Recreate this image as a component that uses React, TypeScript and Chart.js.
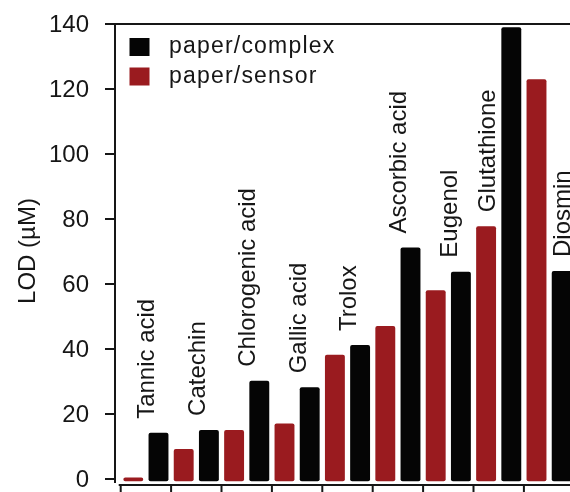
import React, { useEffect, useRef } from "react";
import { Chart, registerables } from "chart.js";

Chart.register(...registerables);

const categories = [
  "Tannic acid",
  "Catechin",
  "Chlorogenic acid",
  "Gallic acid",
  "Trolox",
  "Ascorbic acid",
  "Eugenol",
  "Glutathione",
  "Diosmin",
];
const sensorValues = [0.5, 9.2, 15.1, 17.1, 38.2, 47.1, 58.1, 77.8, 123];
const complexValues = [14.2, 15.1, 30.2, 28.2, 41.2, 71.2, 63.8, 139, 64];
// which bar the rotated label sits over: "center", "sensor" or "complex"
const labelAnchors = ["center", "center", "center", "center", "center", "center", "center", "sensor", "complex"];
const yTicks = [0, 20, 40, 60, 80, 100, 120, 140];
const seriesNames = { complex: "paper/complex", sensor: "paper/sensor" };

const RED = "#9a1b1f";
const BLACK = "#050505";
const INK = "#161616";
const FONT = "'Liberation Sans', Arial, Helvetica, sans-serif";

export default function App() {
  const ref = useRef<HTMLCanvasElement | null>(null);

  useEffect(() => {
    if (!ref.current) return;
    const decor = {
      id: "decor",
      afterDraw(chart: any) {
        const ctx = chart.ctx as CanvasRenderingContext2D;
        const xs = chart.scales.x;
        const ys = chart.scales.y;
        const area = chart.chartArea;
        const axisX = 115;
        ctx.save();
        ctx.strokeStyle = INK;
        ctx.lineWidth = 2;
        ctx.lineCap = "butt";
        // left axis
        ctx.beginPath();
        ctx.moveTo(axisX, 23);
        ctx.lineTo(axisX, 483);
        ctx.stroke();
        // top frame line
        ctx.beginPath();
        ctx.moveTo(axisX - 1, 24);
        ctx.lineTo(chart.width, 24);
        ctx.stroke();
        // y ticks and labels
        ctx.fillStyle = INK;
        ctx.font = `24px ${FONT}`;
        ctx.textAlign = "right";
        ctx.textBaseline = "middle";
        yTicks.forEach((v) => {
          const y = Math.round(ys.getPixelForValue(v));
          ctx.beginPath();
          ctx.moveTo(105, y);
          ctx.lineTo(axisX, y);
          ctx.stroke();
          ctx.fillText(String(v), 89, y + 1);
        });
        // bottom axis
        const slot = (area.right - area.left) / categories.length;
        ctx.beginPath();
        ctx.moveTo(area.left - 2, 485);
        ctx.lineTo(chart.width, 485);
        ctx.stroke();
        for (let i = 0; i <= categories.length; i++) {
          const x = xs.getPixelForValue(i) - slot / 2;
          ctx.beginPath();
          ctx.moveTo(x, 485);
          ctx.lineTo(x, 492);
          ctx.stroke();
        }
        // y title
        ctx.save();
        ctx.translate(35, 251);
        ctx.rotate(-Math.PI / 2);
        ctx.textAlign = "center";
        ctx.textBaseline = "alphabetic";
        ctx.fillText("LOD (\u00b5M)", 0, 0);
        ctx.restore();
        // category labels
        const metaS = chart.getDatasetMeta(0);
        const metaC = chart.getDatasetMeta(1);
        categories.forEach((name, i) => {
          const a = labelAnchors[i];
          let cx: number;
          let topV: number;
          if (a === "sensor") {
            cx = metaS.data[i].x;
            topV = sensorValues[i];
          } else if (a === "complex") {
            cx = metaC.data[i].x;
            topV = complexValues[i];
          } else {
            cx = xs.getPixelForValue(i);
            topV = Math.max(sensorValues[i], complexValues[i]);
          }
          const y0 = ys.getPixelForValue(topV) - 14;
          ctx.save();
          ctx.translate(cx + 8.5, y0);
          ctx.rotate(-Math.PI / 2);
          ctx.textAlign = "left";
          ctx.textBaseline = "alphabetic";
          ctx.font = `24px ${FONT}`;
          ctx.fillText(name, 0, 0);
          ctx.restore();
        });
        // legend
        const items = [
          { label: seriesNames.complex, color: BLACK, cy: 47 },
          { label: seriesNames.sensor, color: RED, cy: 76.5 },
        ];
        items.forEach((it) => {
          ctx.fillStyle = it.color;
          ctx.fillRect(129.5, it.cy - 9, 20, 18);
          ctx.fillStyle = INK;
          ctx.font = `23px ${FONT}`;
          (ctx as any).letterSpacing = "1.2px";
          ctx.textAlign = "left";
          ctx.textBaseline = "middle";
          ctx.fillText(it.label, 169, it.cy);
          (ctx as any).letterSpacing = "0px";
        });
        ctx.restore();
      },
    };

    const chart = new Chart(ref.current, {
      type: "bar",
      data: {
        labels: categories,
        datasets: [
          {
            label: seriesNames.sensor,
            data: sensorValues,
            backgroundColor: RED,
            borderWidth: 0,
            borderRadius: 2,
            borderSkipped: false,
            base: -0.7,
            categoryPercentage: 1.0,
            barPercentage: 0.79,
          },
          {
            label: seriesNames.complex,
            data: complexValues,
            backgroundColor: BLACK,
            borderWidth: 0,
            borderRadius: 2,
            borderSkipped: false,
            base: -0.7,
            categoryPercentage: 1.0,
            barPercentage: 0.79,
          },
        ],
      },
      options: {
        responsive: false,
        animation: false,
        devicePixelRatio: 1,
        layout: { padding: { left: 120.7, right: 25.7, top: 24, bottom: 7 } },
        plugins: { legend: { display: false }, tooltip: { enabled: false } },
        scales: {
          x: { display: false, offset: true },
          y: { display: false, min: -1.846, max: 140 },
        },
      },
      plugins: [decor],
    });
    return () => chart.destroy();
  }, []);

  return (
    <div style={{ position: "fixed", left: 0, top: 0, width: 570, height: 492, overflow: "hidden", background: "#fff" }}>
      <canvas ref={ref} width={600} height={492} style={{ width: 600, height: 492, display: "block" }} />
    </div>
  );
}
